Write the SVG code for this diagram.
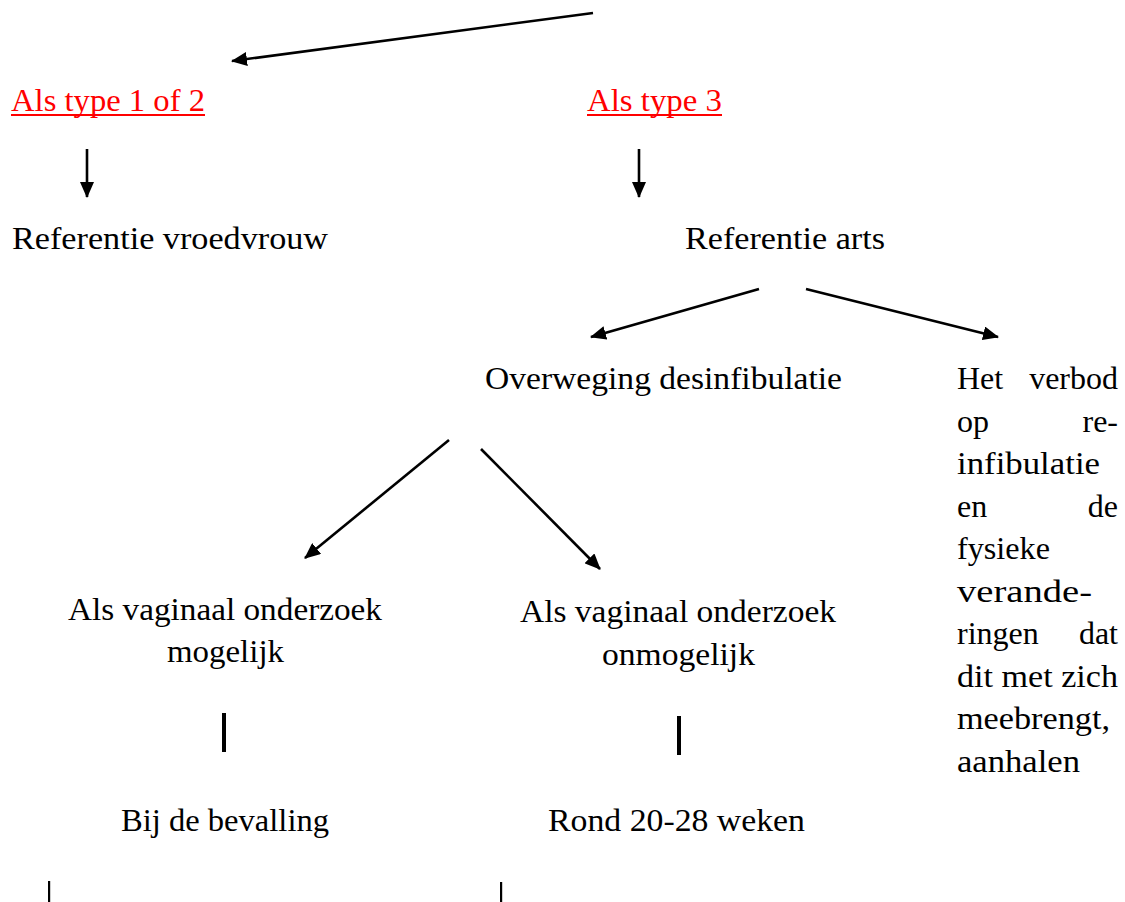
<svg xmlns="http://www.w3.org/2000/svg" width="1125" height="902" viewBox="0 0 1125 902">
<style>
text{font-family:"Liberation Serif","Times New Roman",serif;font-size:32px;fill:#000}
.red{fill:#FF0000}
.ul{stroke:#FF0000;stroke-width:2}
.arr{stroke:#000;stroke-width:2.6;fill:none;marker-end:url(#ah)}
.bar{fill:#000}
</style>
<defs>
<marker id="ah" markerUnits="userSpaceOnUse" markerWidth="16" markerHeight="14" refX="15" refY="7" orient="auto">
<path d="M0,0 L16,7 L0,14 Z" fill="#000"/>
</marker>
</defs>
<rect width="1125" height="902" fill="#fff"/>
<g id="connectors">
<line class="arr" x1="593" y1="13" x2="232" y2="61"/>
<line class="arr" x1="87" y1="149" x2="87" y2="197"/>
<line class="arr" x1="639" y1="149" x2="639" y2="197"/>
<line class="arr" x1="759" y1="289" x2="591" y2="337"/>
<line class="arr" x1="806" y1="289" x2="998" y2="337"/>
<line class="arr" x1="449" y1="440" x2="305" y2="558"/>
<line class="arr" x1="481" y1="449" x2="600" y2="569"/>
<rect class="bar" x="222" y="713" width="4" height="39"/>
<rect class="bar" x="677" y="716" width="4" height="39"/>
<rect class="bar" x="48" y="881" width="2.2" height="21"/>
<rect class="bar" x="500" y="882" width="2.2" height="20"/>
</g>
<g id="type12">
<text class="red" x="11" y="111" textLength="194" lengthAdjust="spacingAndGlyphs">Als type 1 of 2</text>
<line class="ul" x1="11" y1="115" x2="205" y2="115"/>
</g>
<g id="type3">
<text class="red" x="587" y="111" textLength="135" lengthAdjust="spacingAndGlyphs">Als type 3</text>
<line class="ul" x1="587" y1="115" x2="722" y2="115"/>
</g>
<g id="vroedvrouw">
<text x="12" y="249" textLength="316" lengthAdjust="spacingAndGlyphs">Referentie vroedvrouw</text>
</g>
<g id="arts">
<text x="685" y="249" textLength="200" lengthAdjust="spacingAndGlyphs">Referentie arts</text>
</g>
<g id="overweging">
<text x="485" y="389" textLength="357" lengthAdjust="spacingAndGlyphs">Overweging desinfibulatie</text>
</g>
<g id="verbod">
<text x="957" y="389">Het</text><text x="1118" y="389" text-anchor="end">verbod</text>
<text x="957" y="431.5">op</text><text x="1118" y="431.5" text-anchor="end">re-</text>
<text x="957" y="474" textLength="143" lengthAdjust="spacingAndGlyphs">infibulatie</text>
<text x="957" y="516.5">en</text><text x="1118" y="516.5" text-anchor="end">de</text>
<text x="957" y="559" textLength="93" lengthAdjust="spacingAndGlyphs">fysieke</text>
<text x="957" y="601.5" textLength="135" lengthAdjust="spacingAndGlyphs">verande-</text>
<text x="957" y="644">ringen</text><text x="1118" y="644" text-anchor="end">dat</text>
<text x="957" y="686.5" textLength="161" lengthAdjust="spacingAndGlyphs">dit met zich</text>
<text x="957" y="729" textLength="153" lengthAdjust="spacingAndGlyphs">meebrengt,</text>
<text x="957" y="771.5" textLength="123" lengthAdjust="spacingAndGlyphs">aanhalen</text>
</g>
<g id="mogelijk">
<text x="68" y="620" textLength="314" lengthAdjust="spacingAndGlyphs">Als vaginaal onderzoek</text>
<text x="167" y="662" textLength="117" lengthAdjust="spacingAndGlyphs">mogelijk</text>
</g>
<g id="onmogelijk">
<text x="520" y="622" textLength="316" lengthAdjust="spacingAndGlyphs">Als vaginaal onderzoek</text>
<text x="602" y="665" textLength="153" lengthAdjust="spacingAndGlyphs">onmogelijk</text>
</g>
<g id="bevalling">
<text x="121" y="831" textLength="208" lengthAdjust="spacingAndGlyphs">Bij de bevalling</text>
</g>
<g id="rond">
<text x="548" y="831" textLength="257" lengthAdjust="spacingAndGlyphs">Rond 20-28 weken</text>
</g>
</svg>
